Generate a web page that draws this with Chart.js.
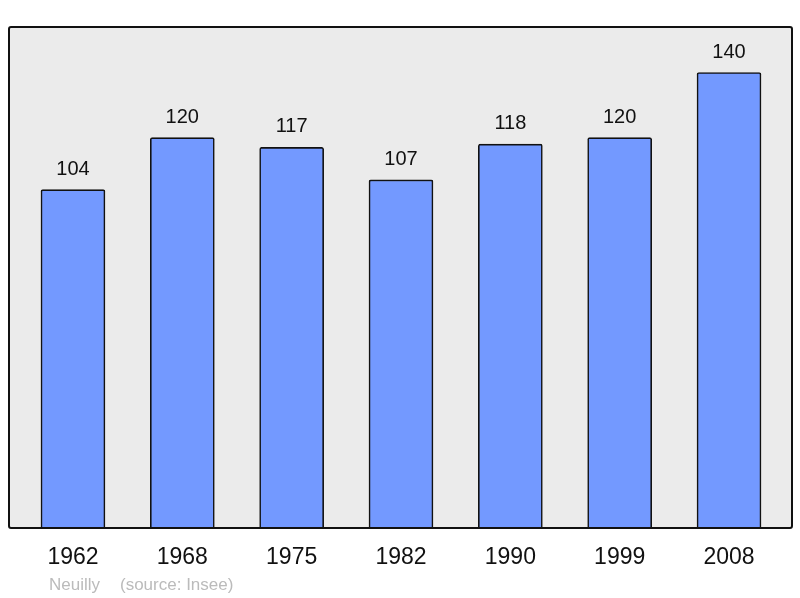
<!DOCTYPE html>
<html>
<head>
<meta charset="utf-8">
<script src="https://cdn.jsdelivr.net/npm/chart.js@4"></script>
<style>
  html, body { margin: 0; padding: 0; background: #fff; }
  #wrap { width: 800px; height: 598px; }
</style>
</head>
<body>
<div id="wrap"><canvas id="c" width="800" height="598"></canvas></div>
<script>
const years = ['1962', '1968', '1975', '1982', '1990', '1999', '2008'];
const population = [104, 120, 117, 107, 118, 120, 140];
const commune = 'Neuilly';
const source = '(source: Insee)';

// plot background, frame, values above bars and footer
const decor = {
  id: 'decor',
  beforeDatasetsDraw(chart) {
    const { ctx, chartArea: a } = chart;
    ctx.save();
    ctx.fillStyle = '#ebebeb';
    ctx.fillRect(a.left, a.top, a.right - a.left, a.bottom - a.top);
    ctx.restore();
  },
  afterDatasetsDraw(chart) {
    const { ctx, chartArea: a } = chart;
    ctx.save();
    ctx.lineWidth = 2;
    ctx.strokeStyle = '#111';
    ctx.beginPath();
    ctx.roundRect(a.left, a.top, a.right - a.left, a.bottom - a.top, 2);
    ctx.stroke();

    ctx.fillStyle = '#111';
    ctx.font = '20px "Liberation Sans", Arial, sans-serif';
    ctx.textAlign = 'center';
    ctx.textBaseline = 'alphabetic';
    chart.getDatasetMeta(0).data.forEach((bar, i) => {
      ctx.fillText(String(population[i]), bar.x, bar.y - 15);
    });

    ctx.fillStyle = '#bbbbbb';
    ctx.font = '17px "Liberation Sans", Arial, sans-serif';
    ctx.textAlign = 'left';
    ctx.fillText(commune, 49, 590);
    ctx.fillText(source, 120, 590);
    ctx.restore();
  }
};

new Chart(document.getElementById('c'), {
  type: 'bar',
  data: {
    datasets: [{
      data: population.map((v, i) => ({ x: i, y: v })),
      backgroundColor: '#7399ff',
      borderColor: '#111',
      borderWidth: 1.6,
      borderRadius: 2,
      borderSkipped: 'bottom',
      barThickness: 64
    }]
  },
  options: {
    responsive: false,
    animation: false,
    layout: { padding: { left: 9, right: 8, top: 27, bottom: 0 } },
    plugins: { legend: { display: false }, tooltip: { enabled: false } },
    scales: {
      x: {
        type: 'linear',
        offset: false,
        min: -0.585,
        max: 6.576,
        grid: { display: false, drawTicks: false, offset: false },
        border: { display: false },
        afterBuildTicks(scale) {
          scale.ticks = years.map((y, i) => ({ value: i }));
        },
        afterFit(scale) { scale.height = 70; },
        ticks: {
          padding: 16,
          color: '#111',
          font: { size: 23, family: '"Liberation Sans", Arial, sans-serif' },
          callback: (v) => years[v]
        }
      },
      y: {
        display: false,
        min: 0,
        max: 154
      }
    }
  },
  plugins: [decor]
});
</script>
</body>
</html>
